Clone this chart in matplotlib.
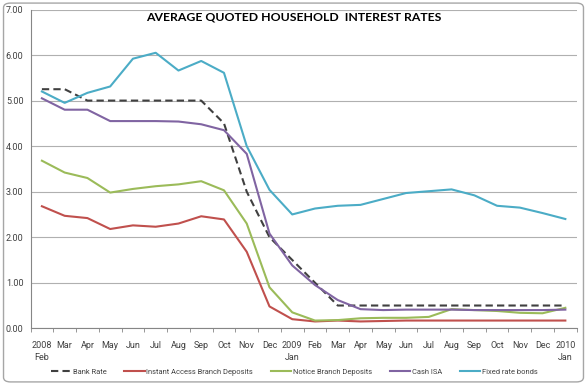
import matplotlib
matplotlib.use("Agg")
import matplotlib.pyplot as plt
from matplotlib.patches import FancyBboxPatch
from matplotlib import font_manager

months = ["2008\nFeb", "Mar", "Apr", "May", "Jun", "Jul", "Aug", "Sep", "Oct", "Nov", "Dec",
          "2009\nJan", "Feb", "Mar", "Apr", "May", "Jun", "Jul", "Aug", "Sep", "Oct", "Nov", "Dec",
          "2010\nJan"]

bank_rate = [5.25, 5.25, 5.00, 5.00, 5.00, 5.00, 5.00, 5.00, 4.50, 3.00, 2.00, 1.50,
             1.00, 0.50, 0.50, 0.50, 0.50, 0.50, 0.50, 0.50, 0.50, 0.50, 0.50, 0.50]
instant_access = [2.68, 2.47, 2.42, 2.18, 2.26, 2.23, 2.30, 2.46, 2.39, 1.68, 0.48, 0.20,
                  0.15, 0.17, 0.15, 0.16, 0.17, 0.17, 0.17, 0.17, 0.17, 0.17, 0.17, 0.17]
notice_branch = [3.68, 3.42, 3.30, 2.98, 3.06, 3.12, 3.16, 3.23, 3.03, 2.30, 0.90, 0.35,
                 0.17, 0.18, 0.22, 0.23, 0.23, 0.25, 0.42, 0.40, 0.38, 0.34, 0.33, 0.45]
cash_isa = [5.05, 4.80, 4.80, 4.55, 4.55, 4.55, 4.54, 4.48, 4.35, 3.83, 2.08, 1.38,
            0.95, 0.62, 0.42, 0.40, 0.41, 0.41, 0.41, 0.40, 0.40, 0.40, 0.40, 0.41]
fixed_rate = [5.20, 4.95, 5.17, 5.31, 5.92, 6.05, 5.66, 5.87, 5.61, 4.00, 3.04, 2.50,
              2.63, 2.69, 2.71, 2.84, 2.97, 3.01, 3.05, 2.92, 2.69, 2.65, 2.53, 2.40]

yticks = [0, 1, 2, 3, 4, 5, 6, 7]

names = {f.name for f in font_manager.fontManager.ttflist}
narrow = "Liberation Sans Narrow" if "Liberation Sans Narrow" in names else "Roboto"

fig = plt.figure(figsize=(5.87, 3.85), dpi=100)
fig.patch.set_facecolor("white")
border = FancyBboxPatch((0.006, 0.008), 0.988, 0.984, boxstyle="round,pad=0,rounding_size=0.012",
                        transform=fig.transFigure, fill=False, edgecolor="#A6A6A6", linewidth=1.0)
fig.patches.append(border)

ax = fig.add_axes([0.052, 0.1473, 0.9305, 0.828])
x = list(range(len(months)))

ax.plot(x, bank_rate, color="#404040", linestyle=(0, (3.5, 2)), linewidth=1.5, label="Bank Rate")
ax.plot(x, instant_access, color="#C0504D", linewidth=1.5, label="Instant Access Branch Deposits")
ax.plot(x, notice_branch, color="#9BBB59", linewidth=1.5, label="Notice Branch Deposits")
ax.plot(x, cash_isa, color="#8064A2", linewidth=1.5, label="Cash ISA")
ax.plot(x, fixed_rate, color="#4BACC6", linewidth=1.5, label="Fixed rate bonds")

ax.set_xlim(-0.5, len(months) - 0.5)
ax.set_ylim(0, 7)
ax.set_yticks(yticks)
ax.set_yticklabels([f"{v:.2f}" for v in yticks], fontsize=6.5, color="#404040", family=narrow)
ax.yaxis.grid(True, color="#B0B0B0", linewidth=0.8)
ax.set_axisbelow(True)
ax.tick_params(axis="y", length=0, pad=5)

ax.set_xticks(x)
ax.set_xticklabels(months, fontsize=6.5, color="#404040", linespacing=1.5, va="top", family=narrow)
ax.set_xticks([i - 0.5 for i in range(len(months) + 1)], minor=True)
ax.tick_params(axis="x", which="major", length=0, pad=9)
ax.tick_params(axis="x", which="minor", length=3, color="#868686")

for s in ["top", "right"]:
    ax.spines[s].set_visible(False)
ax.spines["left"].set_color("#868686")
ax.spines["bottom"].set_color("#868686")

fig.text(0.5, 0.955, "AVERAGE QUOTED HOUSEHOLD  INTEREST RATES", ha="center", va="center",
         fontsize=8.8, fontweight="bold", family="Lato")

leg = fig.legend(loc="center", bbox_to_anchor=(0.501, 0.034), ncol=5, frameon=False,
                 prop={"family": narrow, "size": 5.4}, handlelength=2.7, handletextpad=0.2,
                 columnspacing=2.4)
for t in leg.get_texts():
    t.set_color("#404040")

fig.savefig("out.png", dpi=100)
